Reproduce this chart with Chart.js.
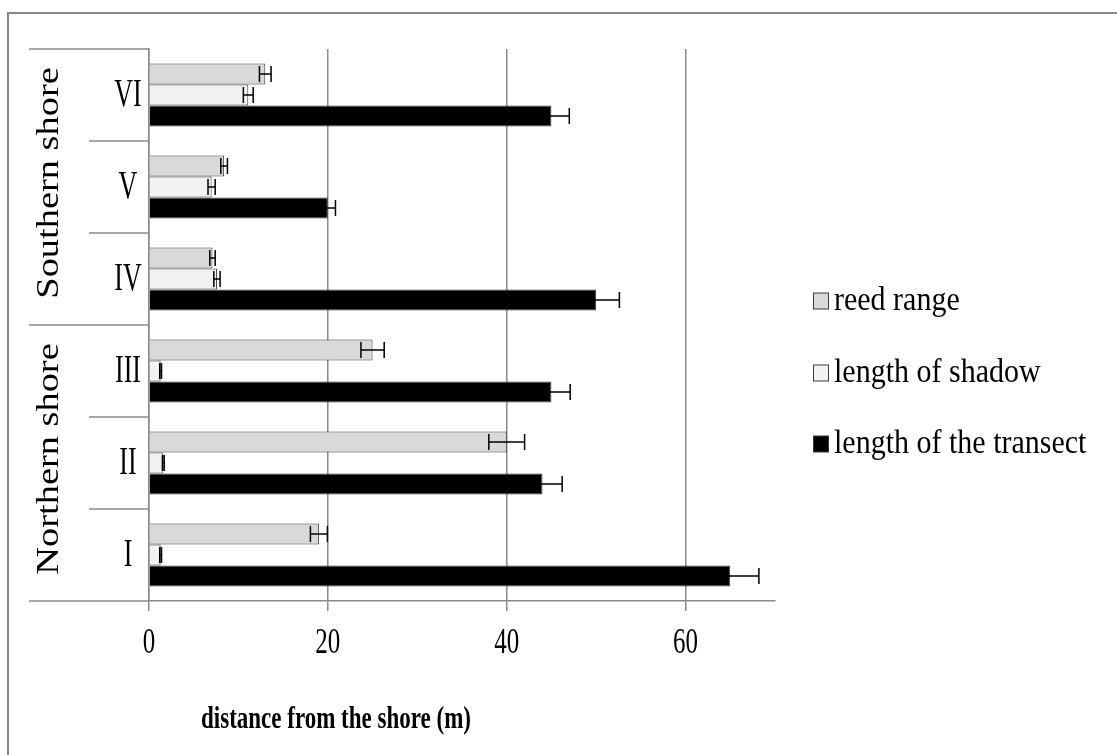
<!DOCTYPE html>
<html>
<head>
<meta charset="utf-8">
<script src="https://cdn.jsdelivr.net/npm/chart.js@4.4.1/dist/chart.umd.min.js"></script>
<style>
  html, body { margin: 0; padding: 0; background: #fff; }
  #wrap { position: relative; width: 1117px; height: 755px; overflow: hidden; background: #fff; }
  #frame { position: absolute; left: 7px; top: 12px; width: 1300px; height: 900px;
           border: 2px solid #878787; box-sizing: border-box; }
  #c { position: absolute; left: 0; top: 0; }
</style>
</head>
<body>
<div id="wrap">
  <div id="frame"></div>
  <canvas id="c" width="1117" height="755"></canvas>
</div>
<script>
// Transects, bottom to top
const categories = ['I', 'II', 'III', 'IV', 'V', 'VI'];
const shoreGroups = ['Northern shore', 'Southern shore'];
const shoreOfCategory = [0, 0, 0, 1, 1, 1];

const seriesNames = ['reed range', 'length of shadow', 'length of the transect'];
const reedRange = [19, 40, 25, 7.1, 8.4, 13];
const reedRangeErr = [0.95, 2.0, 1.3, 0.3, 0.37, 0.65];
const shadowLength = [1.3, 1.6, 1.3, 7.6, 7.0, 11.1];
const shadowLengthErr = [0.1, 0.1, 0.1, 0.35, 0.4, 0.55];
const transectLength = [65, 44, 45, 50, 20, 45];
const transectLengthErr = [3.2, 2.2, 2.1, 2.6, 0.85, 2.0];

const xTickValues = [0, 20, 40, 60];
const xTickLabels = ['0', '20', '40', '60'];
const xAxisTitle = 'distance from the shore (m)';

const seriesColors = ['#d9d9d9', '#f2f2f2', '#000000'];
const LINE = '#8a8a8a';
const SERIF = '"Liberation Serif", "Times New Roman", serif';

// text drawn with a vertical stretch (the typeface here is tall and narrow)
function drawText(ctx, text, x, y, size, o) {
  o = o || {};
  ctx.save();
  ctx.translate(x, y);
  ctx.scale(1, o.sy || 1);
  if (o.rotate) ctx.rotate(o.rotate);
  ctx.font = (o.bold ? 'bold ' : '') + size + 'px ' + SERIF;
  ctx.fillStyle = o.color || '#000';
  ctx.textAlign = o.align || 'center';
  ctx.textBaseline = 'middle';
  ctx.fillText(text, 0, 0);
  ctx.restore();
}

function line(ctx, x1, y1, x2, y2, color, w) {
  ctx.save();
  ctx.strokeStyle = color;
  ctx.lineWidth = w;
  ctx.beginPath();
  ctx.moveTo(x1, y1);
  ctx.lineTo(x2, y2);
  ctx.stroke();
  ctx.restore();
}

// +/- error whiskers at the end of every bar
const errorBars = {
  id: 'errorBars',
  afterDatasetsDraw(chart) {
    const ctx = chart.ctx;
    const xs = chart.scales.x;
    chart.data.datasets.forEach((ds, i) => {
      chart.getDatasetMeta(i).data.forEach((bar, j) => {
        const v = ds.data[j], e = ds.errors[j];
        const x1 = xs.getPixelForValue(v - e);
        const x2 = xs.getPixelForValue(v + e);
        const y = bar.y, h = 8;
        ctx.save();
        ctx.strokeStyle = '#000';
        ctx.lineWidth = 1.5;
        ctx.beginPath();
        ctx.moveTo(x1, y); ctx.lineTo(x2, y);
        ctx.moveTo(x1, y - h); ctx.lineTo(x1, y + h);
        ctx.moveTo(x2, y - h); ctx.lineTo(x2, y + h);
        ctx.stroke();
        ctx.restore();
      });
    });
  }
};

// two-level category axis, value-axis labels, axis title and legend
const decorations = {
  id: 'decorations',
  afterDraw(chart) {
    const ctx = chart.ctx;
    const ys = chart.scales.y, xs = chart.scales.x;
    const area = chart.chartArea;
    const outerLeft = 29, innerLeft = 89;

    // frame lines of the category axis
    line(ctx, outerLeft, area.top, area.left, area.top, LINE, 1.5);
    line(ctx, outerLeft, area.bottom, area.left, area.bottom, LINE, 1.5);

    for (let i = 0; i < categories.length - 1; i++) {
      const b = (ys.getPixelForValue(i) + ys.getPixelForValue(i + 1)) / 2;
      const left = shoreOfCategory[i] !== shoreOfCategory[i + 1] ? outerLeft : innerLeft;
      line(ctx, left, b, area.left, b, LINE, 1.5);
    }

    categories.forEach((c, i) => {
      drawText(ctx, c, 128, ys.getPixelForValue(i), 26, { sy: 1.55 });
    });

    shoreGroups.forEach((g, gi) => {
      const idx = shoreOfCategory.map((s, i) => s === gi ? i : -1).filter(i => i >= 0);
      const p1 = ys.getPixelForValue(idx[0]), p2 = ys.getPixelForValue(idx[idx.length - 1]);
      const half = Math.abs(ys.getPixelForValue(1) - ys.getPixelForValue(0)) / 2;
      const top = Math.min(p1, p2) - half, bottom = Math.max(p1, p2) + half;
      drawText(ctx, g, 50, (top + bottom) / 2 - 4, 32, { sy: 1.2, rotate: -Math.PI / 2 });
    });

    xTickValues.forEach((v, i) => {
      drawText(ctx, xTickLabels[i], xs.getPixelForValue(v), 643, 25, { sy: 1.45 });
    });

    drawText(ctx, xAxisTitle, 336, 720, 23, { bold: true, sy: 1.4 });

    // legend
    const legendY = [301, 373, 444];
    chart.data.datasets.forEach((ds, i) => {
      const y = legendY[i];
      ctx.save();
      ctx.fillStyle = ds.backgroundColor;
      ctx.fillRect(813.5, y - 8, 15, 16);
      ctx.strokeStyle = '#3c3c3c';
      ctx.lineWidth = 1;
      ctx.strokeRect(813.5, y - 8, 15, 16);
      ctx.restore();
      drawText(ctx, ds.label, 834, y, 30, { align: 'left', sy: 1.15 });
    });
  }
};

new Chart(document.getElementById('c'), {
  type: 'bar',
  data: {
    labels: categories,
    datasets: [
      { label: seriesNames[0], data: reedRange, errors: reedRangeErr, backgroundColor: seriesColors[0] },
      { label: seriesNames[1], data: shadowLength, errors: shadowLengthErr, backgroundColor: seriesColors[1] },
      { label: seriesNames[2], data: transectLength, errors: transectLengthErr, backgroundColor: seriesColors[2] }
    ]
  },
  options: {
    indexAxis: 'y',
    responsive: false,
    animation: false,
    devicePixelRatio: 1,
    datasets: {
      bar: { categoryPercentage: 0.685, barPercentage: 1.0, borderWidth: 1, borderColor: '#3c3c3c' }
    },
    layout: { padding: { left: 0, top: 49, right: 342, bottom: 0 } },
    plugins: { legend: { display: false }, tooltip: { enabled: false } },
    scales: {
      x: {
        type: 'linear', min: 0, max: 70, position: 'bottom',
        afterBuildTicks: s => { s.ticks = xTickValues.map(v => ({ value: v })); },
        afterFit: s => { s.height = 154; },
        grid: { color: LINE, lineWidth: 1.5, tickLength: 10, drawTicks: true },
        border: { display: true, color: LINE, width: 1.5 },
        ticks: { display: false }
      },
      y: {
        type: 'category', reverse: true,
        afterFit: s => { s.width = 149; },
        grid: { display: false },
        border: { display: true, color: LINE, width: 1.5 },
        ticks: { display: false }
      }
    }
  },
  plugins: [errorBars, decorations]
});
</script>
</body>
</html>
